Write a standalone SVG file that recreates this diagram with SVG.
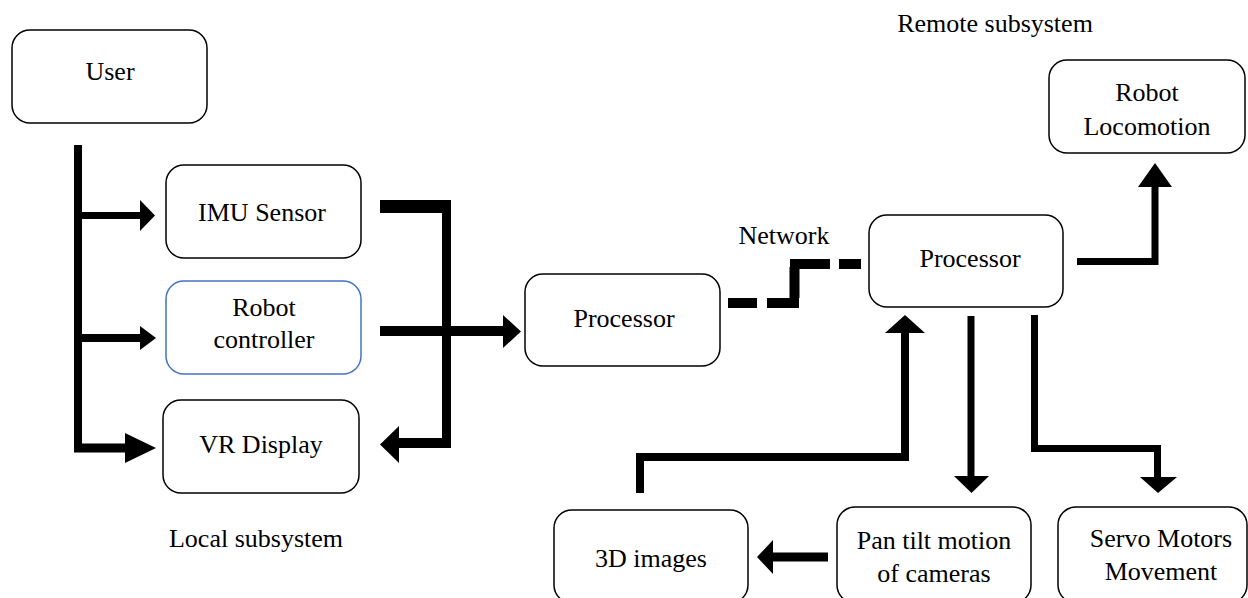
<svg xmlns="http://www.w3.org/2000/svg" width="1248" height="598" viewBox="0 0 1248 598">
  <style>
    .box { fill: #ffffff; stroke: #000000; stroke-width: 1.5; }
    .box.blue { stroke: #4472c4; }
    .lbl { font-family: "Liberation Serif", "Times New Roman", serif; font-size: 26px; fill: #000000; text-anchor: middle; }
    .wire { fill: none; stroke: #000000; stroke-linejoin: miter; stroke-linecap: butt; }
    .head { fill: #000000; }
  </style>

  <rect width="1248" height="598" fill="#ffffff"/>

  <!-- captions -->
  <text class="lbl" x="995" y="32">Remote subsystem</text>
  <text class="lbl" x="256" y="547">Local subsystem</text>
  <text class="lbl" x="784" y="244">Network</text>

  <!-- local subsystem nodes -->
  <g id="user">
    <rect class="box" x="12" y="30" width="195" height="93" rx="18"/>
    <text class="lbl" x="110" y="80">User</text>
  </g>
  <g id="imu-sensor">
    <rect class="box" x="166" y="165" width="195" height="93" rx="18"/>
    <text class="lbl" x="262" y="221">IMU Sensor</text>
  </g>
  <g id="robot-controller">
    <rect class="box blue" x="166" y="281" width="195" height="93" rx="18"/>
    <text class="lbl" x="264" y="316">Robot</text>
    <text class="lbl" x="264" y="348">controller</text>
  </g>
  <g id="vr-display">
    <rect class="box" x="163" y="400" width="196" height="93" rx="18"/>
    <text class="lbl" x="261" y="453">VR Display</text>
  </g>
  <g id="local-processor">
    <rect class="box" x="525" y="274" width="195" height="92" rx="18"/>
    <text class="lbl" x="624" y="327">Processor</text>
  </g>

  <!-- remote subsystem nodes -->
  <g id="remote-processor">
    <rect class="box" x="869" y="215" width="194" height="92" rx="18"/>
    <text class="lbl" x="970" y="267">Processor</text>
  </g>
  <g id="robot-locomotion">
    <rect class="box" x="1049" y="60" width="196" height="93" rx="18"/>
    <text class="lbl" x="1147" y="101">Robot</text>
    <text class="lbl" x="1147" y="135">Locomotion</text>
  </g>
  <g id="images-3d">
    <rect class="box" x="554" y="510" width="194" height="93" rx="18"/>
    <text class="lbl" x="651" y="567">3D images</text>
  </g>
  <g id="pan-tilt">
    <rect class="box" x="837" y="507" width="194" height="96" rx="18"/>
    <text class="lbl" x="934" y="549">Pan tilt motion</text>
    <text class="lbl" x="934" y="582">of cameras</text>
  </g>
  <g id="servo-motors">
    <rect class="box" x="1058" y="507" width="189" height="96" rx="18"/>
    <text class="lbl" x="1161" y="547">Servo Motors</text>
    <text class="lbl" x="1161" y="580">Movement</text>
  </g>

  <!-- connectors -->
  <g id="connectors">
    <!-- user bus feeding the local devices -->
    <path class="wire" stroke-width="8" d="M78 145 V448"/>
    <path class="wire" stroke-width="7" d="M74 215.5 H142"/>
    <polygon class="head" points="140,200 155,215.5 140,231"/>
    <path class="wire" stroke-width="8" d="M74 338 H142"/>
    <polygon class="head" points="140,326 156,338 140,350"/>
    <path class="wire" stroke-width="9" d="M74 448 H127"/>
    <polygon class="head" points="125,433 156,448 125,463"/>

    <!-- IMU sensor to VR display loop -->
    <path class="wire" stroke-width="13" d="M380 206.5 H446.5"/>
    <path class="wire" stroke-width="9" d="M446.5 200 V443"/>
    <path class="wire" stroke-width="10" d="M451 443 H397"/>
    <polygon class="head" points="399,426 380,444.5 399,463"/>

    <!-- robot controller to local processor -->
    <path class="wire" stroke-width="10" d="M380 331 H505"/>
    <polygon class="head" points="503,315 521,331.5 503,348"/>

    <!-- network link -->
    <path class="wire" stroke-width="10" d="M728 303 H757 M767 303 H799 M794.5 298 V267 M790 264 H830 M839 264 H861"/>

    <!-- remote processor to robot locomotion -->
    <path class="wire" stroke-width="7" d="M1077 261.5 H1155 V185"/>
    <polygon class="head" points="1138,187 1155,163 1172,187"/>

    <!-- 3D images back to remote processor -->
    <path class="wire" stroke-width="8" d="M640 493 V457 H905 V331"/>
    <polygon class="head" points="885,333 905,315 925,333"/>

    <!-- remote processor to pan tilt -->
    <path class="wire" stroke-width="7" d="M971 316 V478"/>
    <polygon class="head" points="954,476 971.5,493 989,476"/>

    <!-- remote processor to servo motors -->
    <path class="wire" stroke-width="7" d="M1034.5 315 V448.5 H1157.5 V479"/>
    <polygon class="head" points="1140,477 1158,493 1177,477"/>

    <!-- pan tilt to 3D images -->
    <path class="wire" stroke-width="9" d="M828 557 H771"/>
    <polygon class="head" points="773,540 757,557 773,574"/>
  </g>
</svg>
